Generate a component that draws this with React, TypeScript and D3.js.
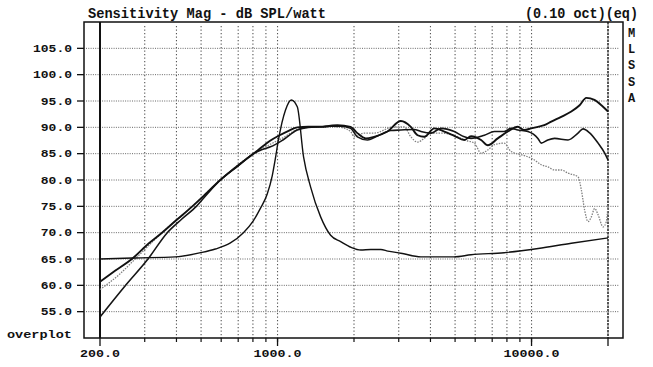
import React from "react";
import * as d3 from "d3";

const W = 653;
const H = 367;

const yTicks = [55, 60, 65, 70, 75, 80, 85, 90, 95, 100, 105];
const xLabelTicks = [200, 1000, 10000];
const xGridFreqs = [300, 400, 500, 600, 700, 800, 900, 1000, 2000, 3000, 4000, 5000, 6000, 7000, 8000, 9000, 10000];
const xMajorFreqs = [200, 1000, 10000, 20000];
const xEndFreq = 20000;

const title = "Sensitivity Mag - dB SPL/watt";
const subtitle = "(0.10 oct)(eq)";
const sideLabel = ["M", "L", "S", "S", "A"];
const cornerLabel = "overplot";

// [frequency Hz, dB]
const curveA: [number, number][] = [
  [200, 60.7], [230, 62.8], [270, 65.2], [310, 67.9], [351, 70.0], [400, 72.4], [462, 75.0], [520, 77.3],
  [595, 80.0], [700, 82.8], [804, 85.0], [870, 86.3], [938, 87.5], [1010, 88.4], [1100, 89.3], [1196, 90.0],
  [1320, 90.1], [1478, 90.1], [1618, 90.3], [1720, 90.4], [1940, 90.1], [2062, 88.9], [2225, 87.9], [2398, 88.2],
  [2710, 89.2], [3058, 91.2], [3348, 90.1], [3560, 88.5], [3780, 88.2], [4140, 89.8], [4535, 89.2], [4964, 88.4],
  [5437, 87.6], [5778, 88.3], [6328, 87.6], [6726, 86.6], [7362, 87.9], [8066, 89.2], [8832, 90.1], [9354, 89.5],
  [9970, 89.8], [10594, 90.1], [11220, 90.4], [11960, 91.1], [13090, 92.0], [14340, 93.0], [15460, 94.2],
  [16430, 95.6], [17680, 95.2], [18840, 94.2], [20000, 93.0],
];

const curveB: [number, number][] = [
  [200, 54.0], [250, 59.8], [309, 65.0], [368, 70.0], [420, 72.6], [479, 75.0], [530, 77.4], [595, 80.0],
  [700, 82.7], [804, 85.0], [870, 85.8], [938, 86.3], [1050, 87.6], [1196, 89.5], [1320, 90.0], [1478, 90.1],
  [1618, 90.2], [1772, 90.2], [1940, 89.8], [2062, 88.2], [2259, 87.6], [2510, 88.5], [2792, 89.4], [3058, 89.5],
  [3450, 89.6], [3668, 89.2], [4018, 88.9], [4400, 89.8], [4964, 89.2], [5437, 88.2], [5778, 87.9], [6520, 88.5],
  [7140, 89.2], [7800, 89.2], [8312, 89.8], [8832, 89.5], [9672, 89.2], [10594, 87.9], [10920, 87.0], [11594, 87.6],
  [12320, 87.9], [13920, 87.6], [15240, 88.9], [15950, 89.7], [16890, 89.0], [18280, 87.0], [19410, 85.1],
  [20000, 83.8],
];

const curveC: [number, number][] = [
  [200, 59.2], [240, 62.2], [275, 65.0], [351, 70.0], [462, 75.0], [595, 80.0], [804, 85.0], [938, 86.8],
  [1050, 88.0], [1196, 89.6], [1320, 90.0], [1478, 90.1], [1618, 90.2], [1772, 90.0], [1940, 89.2], [2000, 88.2],
  [2190, 88.9], [2398, 88.9], [2876, 90.1], [3151, 90.1], [3348, 88.2], [3560, 87.2], [3780, 87.9], [4018, 88.9],
  [4400, 88.9], [4964, 88.5], [5437, 87.6], [5956, 87.0], [6328, 85.1], [6726, 85.7], [7140, 86.7], [7800, 87.0],
  [8312, 85.4], [9100, 84.8], [9672, 84.4], [10270, 83.8], [10920, 82.9], [11594, 82.5], [12320, 81.9],
  [13090, 81.9], [13920, 81.3], [15240, 80.6], [15710, 78.1], [16180, 74.3], [16690, 72.1], [17200, 73.0],
  [17720, 74.6], [18280, 73.4], [19130, 71.1], [19710, 72.1], [20000, 75.3],
];

const curveP: [number, number][] = [
  [200, 65.0], [275, 65.2], [396, 65.4], [497, 66.2], [569, 66.9], [650, 68.0], [734, 70.0], [804, 72.3],
  [856, 74.6], [910, 77.3], [953, 80.8], [980, 84.0], [1008, 87.6], [1075, 93.3], [1132, 95.2], [1196, 93.9],
  [1266, 84.4], [1349, 78.7], [1478, 73.0], [1618, 69.5], [1772, 68.3], [1950, 67.2], [2126, 66.7], [2328, 66.8],
  [2550, 66.8], [2718, 66.5], [3058, 66.1], [3668, 65.4], [4950, 65.4], [5778, 65.8], [7800, 66.2], [10620, 67.0],
  [14340, 68.0], [20000, 69.0],
];

const FONT = "'Liberation Mono', 'DejaVu Sans Mono', monospace";

export default function App() {
  const x = d3.scaleLog().domain([200, 20000]).range([100, 608]);
  const y = d3.scaleLinear().domain([50, 110]).range([338, 22]);
  const line = d3
    .line<[number, number]>()
    .x((d) => x(d[0]))
    .y((d) => y(d[1]))
    .curve(d3.curveMonotoneX);

  const fmt = d3.format(".1f");
  const frameL = 84, frameR = 623, frameT = 22, frameB = 338;

  return (
    <div style={{ position: "absolute", left: 0, top: 0, width: W, height: H, background: "#fff" }}>
      <svg width={W} height={H} viewBox={`0 0 ${W} ${H}`} style={{ display: "block" }}>
        <rect x={0} y={0} width={W} height={H} fill="#fff" />
        {/* horizontal grid */}
        {yTicks.map((v) => (
          <g key={"h" + v}>
            <line x1={frameL + 2} x2={frameR - 4} y1={y(v)} y2={y(v)} stroke="#666" strokeWidth={1} strokeDasharray="1,1.3" />
            <line x1={frameL - 7} x2={frameL} y1={y(v)} y2={y(v)} stroke="#111" strokeWidth={1.3} />
          </g>
        ))}
        {/* vertical grid */}
        {xGridFreqs.map((f) => (
          <line key={"v" + f} x1={x(f)} x2={x(f)} y1={frameT + 4} y2={frameB} stroke="#555" strokeWidth={1.1} strokeDasharray="1.2,2.3" />
        ))}
        {/* x minor ticks */}
        {xGridFreqs.map((f) => (
          <line key={"t" + f} x1={x(f)} x2={x(f)} y1={frameB} y2={frameB + 4} stroke="#111" strokeWidth={1.2} />
        ))}
        {xMajorFreqs.map((f) => (
          <line key={"T" + f} x1={x(f)} x2={x(f)} y1={frameB} y2={frameB + 8} stroke="#111" strokeWidth={1.3} />
        ))}
        {/* left solid and right dashed lines */}
        <line x1={x(200)} x2={x(200)} y1={frameT} y2={frameB} stroke="#111" strokeWidth={2} />
        <line x1={x(xEndFreq)} x2={x(xEndFreq)} y1={frameT} y2={frameB} stroke="#222" strokeWidth={1.5} strokeDasharray="2.5,1" />
        {/* frame */}
        <rect x={frameL} y={frameT} width={frameR - frameL} height={frameB - frameT} fill="none" stroke="#111" strokeWidth={1.5} />

        {/* curves */}
        <path d={line(curveC) || ""} fill="none" stroke="#808080" strokeWidth={1.3} strokeDasharray="1.5,1.2" />
        <path d={line(curveP) || ""} fill="none" stroke="#111" strokeWidth={1.4} />
        <path d={line(curveB) || ""} fill="none" stroke="#151515" strokeWidth={1.6} />
        <path d={line(curveA) || ""} fill="none" stroke="#111" strokeWidth={1.9} />

        {/* y labels */}
        {yTicks.map((v) => {
          const s = fmt(v);
          const len = s.length * 7.8;
          return (
            <text key={"yl" + v} x={72 - len} y={y(v) + 3.6} fontFamily={FONT} fontSize={11} fontWeight="bold" fill="#111" textLength={len} lengthAdjust="spacingAndGlyphs">
              {s}
            </text>
          );
        })}
        {/* x labels */}
        {xLabelTicks.map((f) => {
          const s = fmt(f);
          const len = s.length * 8;
          return (
            <text key={"xl" + f} x={x(f) - len / 2} y={357} fontFamily={FONT} fontSize={11} fontWeight="bold" fill="#111" textLength={len} lengthAdjust="spacingAndGlyphs">
              {s}
            </text>
          );
        })}
        <text x={7} y={337.5} fontFamily={FONT} fontSize={11} fontWeight="bold" fill="#111" textLength={65} lengthAdjust="spacingAndGlyphs">
          {cornerLabel}
        </text>
        <text x={88} y={18} fontFamily={FONT} fontSize={14} fontWeight="bold" fill="#111" textLength={238} lengthAdjust="spacingAndGlyphs">
          {title}
        </text>
        <text x={525} y={18} fontFamily={FONT} fontSize={14} fontWeight="bold" fill="#111" textLength={113} lengthAdjust="spacingAndGlyphs">
          {subtitle}
        </text>
        {sideLabel.map((c, i) => (
          <text key={"s" + i} x={631.5} y={37 + i * 16.2} textAnchor="middle" fontFamily={FONT} fontSize={12} fontWeight="bold" fill="#111">
            {c}
          </text>
        ))}
      </svg>
    </div>
  );
}
